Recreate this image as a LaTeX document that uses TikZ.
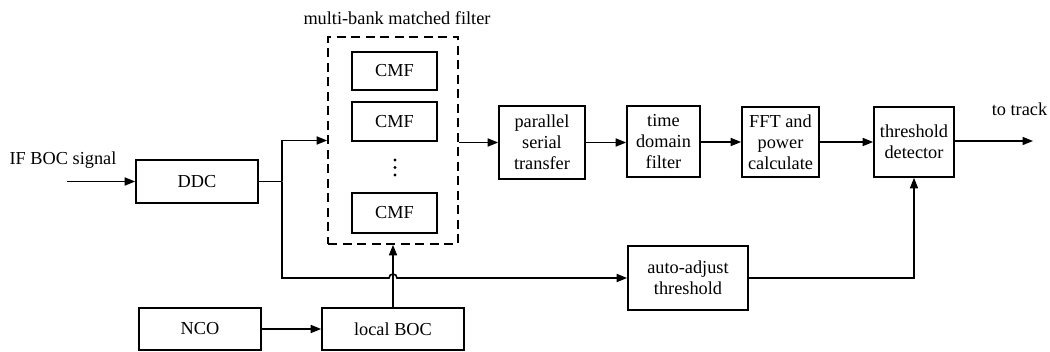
\documentclass[tikz,border=0pt]{standalone}
\usepackage{fontspec}
\setmainfont{Liberation Serif}
\usetikzlibrary{arrows.meta}

\begin{document}
\begin{tikzpicture}[
  x=1pt, y=-1pt,
  font=\fontsize{18.3}{21}\selectfont,
  line width=1.6pt,
  blk/.style={draw, inner sep=0pt, align=center},
  bank/.style={draw, dash pattern=on 9pt off 5.5pt, inner sep=0pt},
  arr/.style={-{Triangle[length=10.5pt,width=8pt]}},
  dot/.style={circle, fill, inner sep=0pt, minimum size=3.2pt},
]
\useasboundingbox (0,0) rectangle (1050,352);

% front end
\node[blk, minimum width=122pt, minimum height=43pt] (ddc) at (197,181.5) {DDC};
\node[anchor=base] (iflabel) at (63,165) {IF BOC signal};
\coordinate (in) at (67,181.5);

% matched filter bank
\node[bank, minimum width=130pt, minimum height=207pt] (mbmf) at (393,140.5) {};
\node[anchor=base] (mbmflabel) at (397,25) {multi-bank matched filter};
\node[blk, minimum width=85pt, minimum height=38pt] (cmf1) at (394.5,71) {CMF};
\node[blk, minimum width=85pt, minimum height=39pt] (cmf2) at (394.5,121.5) {CMF};
\node[dot] (dot1) at (395,160) {};
\node[dot] (dot2) at (395,167.5) {};
\node[dot] (dot3) at (395,175) {};
\node[blk, minimum width=85pt, minimum height=40pt] (cmf3) at (394.5,213) {CMF};

% local replica
\node[blk, minimum width=122pt, minimum height=42pt] (nco) at (200,329) {NCO};
\node[blk, minimum width=142pt, minimum height=42pt] (boc) at (393,329) {local BOC};

% processing chain
\node[blk, minimum width=86pt, minimum height=73pt] (par) at (542,142.5) {parallel\\serial\\transfer};
\node[blk, minimum width=73pt, minimum height=71pt] (tdf) at (663.5,141.5) {time\\domain\\filter};
\node[blk, minimum width=77pt, minimum height=70pt] (fft) at (780.5,142) {FFT and\\power\\calculate};
\node[blk, minimum width=80pt, minimum height=70pt] (thr) at (914,142) {threshold\\detector};
\node[blk, minimum width=120pt, minimum height=64pt] (auto) at (688,278) {auto-adjust\\threshold};
\node[anchor=base] (tracklabel) at (1019.5,116) {to track};
\coordinate (out) at (1033,141);

% connectors
\coordinate (split) at (282,181.5);
\coordinate (hop) at (boc.north |- auto.west);
\draw[arr] (in) -- (ddc.west);
\draw (ddc.east) -- (split);
\draw[arr] (split) |- (mbmf.west);
\draw[arr] (split) |- ([xshift=-4pt]hop) arc[start angle=180, end angle=0, radius=4pt] -- (auto.west);
\draw[arr] (nco.east) -- (boc.west);
\draw[arr] (boc.north) -- (mbmf.south);
\draw[arr] (mbmf.east |- par.west) -- (par.west);
\draw[arr] (par.east) -- (par.east -| tdf.west);
\draw[arr] (tdf.east |- fft.west) -- (fft.west);
\draw[arr] (fft.east) -- (thr.west);
\draw[arr] (thr.east |- out) -- (out);
\draw[arr] (auto.east) -| (thr.south);
\end{tikzpicture}
\end{document}
